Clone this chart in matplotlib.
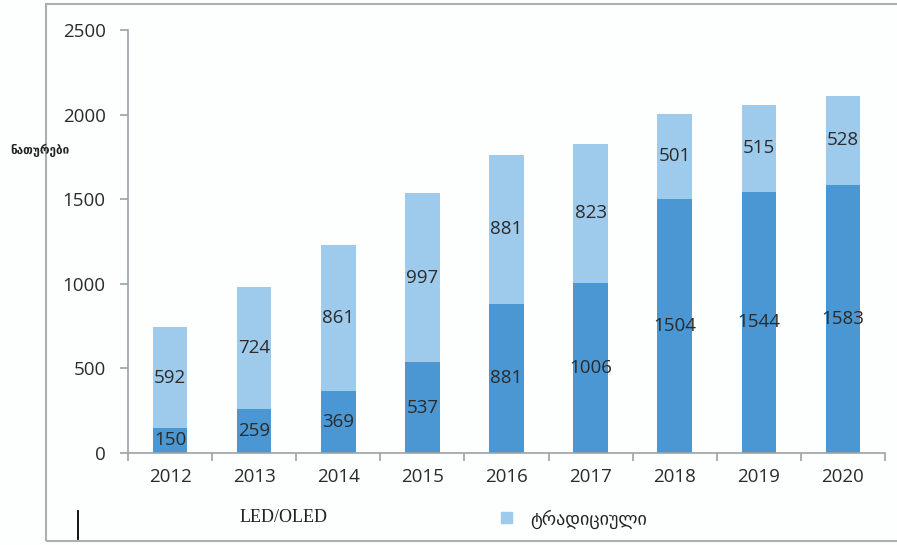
import matplotlib.pyplot as plt
import numpy as np
from matplotlib.patches import Rectangle
from matplotlib.lines import Line2D

years = ["2012", "2013", "2014", "2015", "2016", "2017", "2018", "2019", "2020"]
led_oled = [150, 259, 369, 537, 881, 1006, 1504, 1544, 1583]
traditional = [592, 724, 861, 997, 881, 823, 501, 515, 528]
y_ticks = [0, 500, 1000, 1500, 2000, 2500]

dark_blue = "#4a97d3"
light_blue = "#9ecaec"
text_col = "#2b2b2b"
axis_col = "#9aa3a8"

fig = plt.figure(figsize=(8.97, 5.45), dpi=100)
fig.patch.set_facecolor("#fdfefe")

# outer frame (left, top and bottom edges visible)
fig.add_artist(Rectangle((46 / 897, 4 / 545), 1.0, 537 / 545,
                         transform=fig.transFigure, fill=False,
                         edgecolor="#a8b0b4", linewidth=1.5))

ax = fig.add_axes([128 / 897, 92 / 545, 757 / 897, 423 / 545])
ax.set_facecolor("none")

x = np.arange(len(years))
width = 0.41
b1 = ax.bar(x, led_oled, width, color=dark_blue)
b2 = ax.bar(x, traditional, width, bottom=led_oled, color=light_blue)

for bars, vals, bottoms in ((b1, led_oled, [0] * len(years)),
                            (b2, traditional, led_oled)):
    for xi, v, b in zip(x, vals, bottoms):
        ax.text(xi, b + v / 2, str(v), ha="center", va="center",
                fontsize=13.5, color=text_col, family="Open Sans")

ax.set_xlim(-0.5, len(years) - 0.5)
ax.set_ylim(0, 2500)
ax.set_yticks(y_ticks)
ax.set_yticklabels([str(t) for t in y_ticks], family="Open Sans",
                   fontsize=13.5, color=text_col)
ax.set_xticks(x)
ax.set_xticklabels(years, family="Open Sans", fontsize=13.5, color=text_col)
ax.set_xticks(np.arange(-0.5, len(years)), minor=True)
ax.tick_params(axis="x", which="major", length=0, pad=11)
ax.tick_params(axis="x", which="minor", length=6, color=axis_col, width=1.2)
ax.tick_params(axis="y", length=6, color=axis_col, width=1.2, pad=10)

for s in ("top", "right"):
    ax.spines[s].set_visible(False)
for s in ("left", "bottom"):
    ax.spines[s].set_color(axis_col)
    ax.spines[s].set_linewidth(1.2)

fig.text(10 / 897, 1 - 150 / 545, "ნათურები", fontsize=8.5, fontweight="bold",
         color="#222222", family="DejaVu Sans", va="center", ha="left")

# legend row
fig.add_artist(Line2D([78 / 897, 78 / 897], [1 - 511 / 545, 1 - 539 / 545],
                      transform=fig.transFigure, color="black", linewidth=1.3))
fig.text(240 / 897, 1 - 518 / 545, "LED/OLED", fontsize=13,
         family="Liberation Serif", color="#222222", va="center", ha="left")
fig.add_artist(Rectangle((501 / 897, 1 - 523 / 545), 11 / 897, 11 / 545,
                         transform=fig.transFigure, color=light_blue))
fig.text(530 / 897, 1 - 519 / 545, "ტრადიციული", fontsize=13,
         family="DejaVu Sans", color="#222222", va="center", ha="left")

fig.savefig("out.png", dpi=100, facecolor=fig.get_facecolor())
